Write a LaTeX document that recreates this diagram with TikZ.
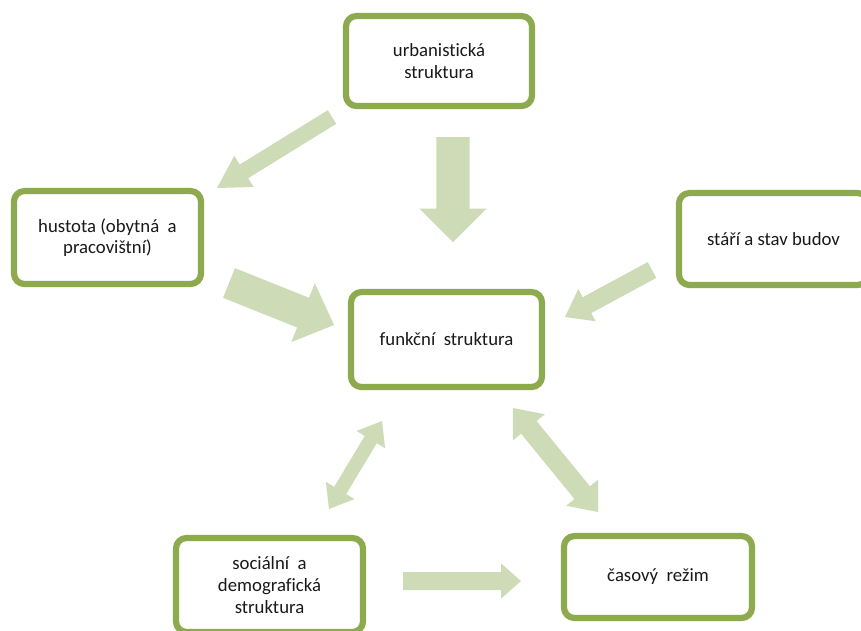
\documentclass[tikz,border=0pt]{standalone}
\usepackage{fontspec}
\setmainfont{Carlito}[RawFeature=-liga]
\usetikzlibrary{calc}
\definecolor{boxline}{RGB}{141,170,79}
\definecolor{arrfill}{RGB}{205,219,182}
\tikzset{
  box/.style={draw=boxline, line width=5.3pt, rounded corners=9pt, fill=white,
    align=center, inner sep=0pt, font=\fontsize{16}{18.5}\selectfont, text=black!90},
}
% single block arrow: from #1 to #2, shaft half width #3, head half width #4, head length #5
\newcommand{\blkarrow}[5]{%
  \fill[arrfill]
    ($(#1)!#3!90:(#2)$) --
    ($($(#2)!#5!(#1)$)!#3!90:(#2)$) --
    ($($(#2)!#5!(#1)$)!#4!90:(#2)$) --
    (#2) --
    ($($(#2)!#5!(#1)$)!#4!-90:(#2)$) --
    ($($(#2)!#5!(#1)$)!#3!-90:(#2)$) --
    ($(#1)!#3!-90:(#2)$) -- cycle;}
% double block arrow between #1 and #2
\newcommand{\dblarrow}[5]{%
  \fill[arrfill]
    (#1) --
    ($($(#1)!#5!(#2)$)!#4!-90:(#2)$) --
    ($($(#1)!#5!(#2)$)!#3!-90:(#2)$) --
    ($($(#2)!#5!(#1)$)!#3!90:(#1)$) --
    ($($(#2)!#5!(#1)$)!#4!90:(#1)$) --
    (#2) --
    ($($(#2)!#5!(#1)$)!#4!-90:(#1)$) --
    ($($(#2)!#5!(#1)$)!#3!-90:(#1)$) --
    ($($(#1)!#5!(#2)$)!#3!90:(#2)$) --
    ($($(#1)!#5!(#2)$)!#4!90:(#2)$) -- cycle;}
\begin{document}
\begin{tikzpicture}[x=0.03cm,y=-0.03cm]
\useasboundingbox (0,0) rectangle (861,630);
\fill[white] (0,0) rectangle (861,630);

% arrow end points
\coordinate (a1s) at (332,117);
\coordinate (a1e) at (217,188);
\coordinate (a2s) at (453,137);
\coordinate (a2e) at (453,242);
\coordinate (a3s) at (229,283);
\coordinate (a3e) at (334,325);
\coordinate (a4s) at (652,270);
\coordinate (a4e) at (565,317);
\coordinate (a5s) at (382,421);
\coordinate (a5e) at (329,509);
\coordinate (a6s) at (513,408);
\coordinate (a6e) at (598,512);
\coordinate (a7s) at (403,581);
\coordinate (a7e) at (521,581);

\blkarrow{a1s}{a1e}{0.24cm}{0.55cm}{0.95cm}
\blkarrow{a2s}{a2e}{0.5cm}{1.0cm}{1.0cm}
\blkarrow{a3s}{a3e}{0.48cm}{0.95cm}{1.0cm}
\blkarrow{a4s}{a4e}{0.27cm}{0.55cm}{0.75cm}
\dblarrow{a5s}{a5e}{0.21cm}{0.5cm}{0.65cm}
\dblarrow{a6s}{a6e}{0.3cm}{0.62cm}{0.75cm}
\blkarrow{a7s}{a7e}{0.27cm}{0.53cm}{0.6cm}

\node[box, minimum width=186*0.03cm, minimum height=90*0.03cm] (urb) at (439,61)
  {urbanistická\\struktura};
\node[box, minimum width=187*0.03cm, minimum height=93*0.03cm] (hust) at (107.5,237.5)
  {hustota (obytná\ \ a\\pracovištní)};
\node[box, minimum width=189*0.03cm, minimum height=92*0.03cm] (star) at (773.5,239)
  {stáří a stav budov};
\node[box, minimum width=191*0.03cm, minimum height=95*0.03cm] (funk) at (446.5,339.5)
  {funkční\ \ struktura};
\node[box, minimum width=187*0.03cm, minimum height=94*0.03cm] (soc) at (269.5,585)
  {sociální\ \ a\\demografická\\struktura};
\node[box, minimum width=188*0.03cm, minimum height=82*0.03cm] (cas) at (658,577)
  {časový\ \ režim};
\end{tikzpicture}
\end{document}
